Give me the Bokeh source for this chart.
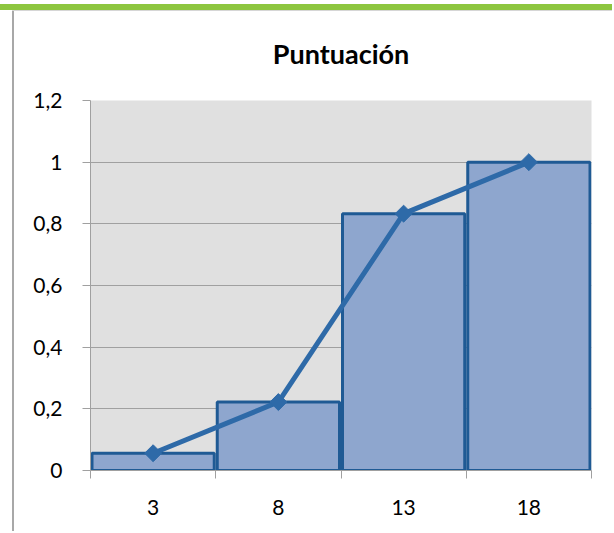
from bokeh.plotting import figure
from bokeh.models import FixedTicker, CustomJSTickFormatter, Title, Range1d
from bokeh.embed import file_html
from bokeh.resources import INLINE
import numpy as np

# ---- data ----
categories = ["3", "8", "13", "18"]
frequencies = [0.056, 0.222, 0.833, 1.0]
y_ticks = [0, 0.2, 0.4, 0.6, 0.8, 1.0, 1.2]
title_text = "Puntuación"

n = len(categories)
idx = np.arange(n)
centers = idx + 0.5

p = figure(width=612, height=531, output_backend="svg", toolbar_location=None,
           x_range=Range1d(0, n), y_range=Range1d(0, 1.2),
           min_border_left=90, min_border_right=21, min_border_top=100, min_border_bottom=61)
p.title = None
p.add_layout(Title(text=title_text, align="center", text_font="Lato", text_font_size="27px",
                   text_font_style="bold", text_color="#000000", standoff=61), "above")

p.background_fill_color = "#E0E0E0"
p.border_fill_color = None
p.outline_line_color = None

# page decorations (green band on top, thin grey frame lines) as CSS background
p.styles = {
    "background-color": "#FFFFFF",
    "background-image": ("linear-gradient(#8DC63F,#8DC63F), linear-gradient(#D6D6D6,#D6D6D6), "
                         "linear-gradient(#A8A8A8,#A8A8A8)"),
    "background-position": "0px 4px, 12px 10px, 12px 10px",
    "background-size": "100% 6px, 100% 1px, 2px 100%",
    "background-repeat": "no-repeat",
}

# grid
p.xgrid.grid_line_color = None
p.ygrid.ticker = FixedTicker(ticks=y_ticks)
p.ygrid.grid_line_color = "#A0A0A0"
p.ygrid.grid_line_width = 1

# y axis
p.yaxis.ticker = FixedTicker(ticks=y_ticks)
p.yaxis.formatter = CustomJSTickFormatter(code="return (Math.round(tick*10)/10).toString().replace('.', ',');")
p.yaxis.axis_line_color = "#A0A0A0"
p.yaxis.major_tick_line_color = "#A0A0A0"
p.yaxis.major_tick_out = 8
p.yaxis.major_tick_in = 0
p.yaxis.minor_tick_line_color = None
p.yaxis.major_label_standoff = 20
p.yaxis.major_label_text_font = "Lato"
p.yaxis.major_label_text_font_size = "21px"
p.yaxis.major_label_text_color = "#000000"

# x axis
p.xaxis.ticker = FixedTicker(ticks=list(centers), minor_ticks=list(range(n + 1)))
p.xaxis.formatter = CustomJSTickFormatter(args=dict(labels=categories),
                                          code="return labels[Math.floor(tick)];")
p.xaxis.axis_line_color = "#A0A0A0"
p.xaxis.major_tick_line_color = None
p.xaxis.major_tick_out = 0
p.xaxis.major_tick_in = 0
p.xaxis.minor_tick_line_color = "#A0A0A0"
p.xaxis.minor_tick_out = 8
p.xaxis.minor_tick_in = 0
p.xaxis.major_label_standoff = 21
p.xaxis.major_label_text_font = "Lato"
p.xaxis.major_label_text_font_size = "21px"
p.xaxis.major_label_text_color = "#000000"

# bars
gap = 0.012
p.quad(left=idx + gap, right=idx + 1 - gap, bottom=0, top=frequencies,
       fill_color="#8EA6CE", line_color="#1F5A94", line_width=3)

# line + diamond markers
p.line(x=centers, y=frequencies, line_color="#2E6AA8", line_width=5)
p.scatter(x=centers, y=frequencies, marker="square", angle=np.pi / 4, size=12,
          fill_color="#2E6AA8", line_color="#2E6AA8")

open("out.html", "w").write(file_html(p, INLINE))
